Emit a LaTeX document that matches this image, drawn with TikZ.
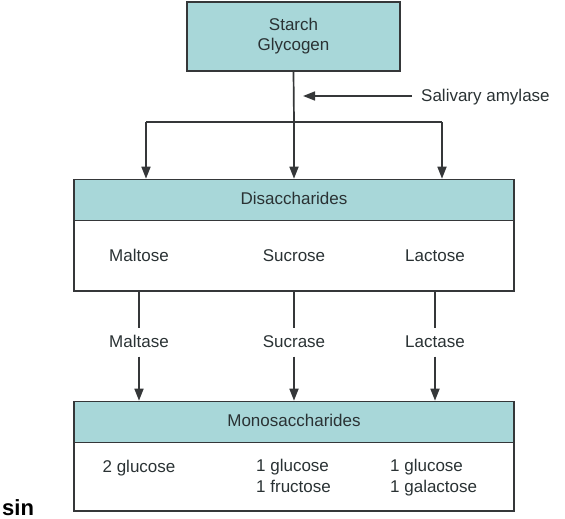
\documentclass[tikz,border=0pt]{standalone}
\usepackage{fontspec}
\setmainfont{Liberation Sans}
\usetikzlibrary{arrows.meta}
\definecolor{tealfill}{HTML}{A8D7D9}
\definecolor{linecol}{HTML}{353739}
\definecolor{txtcol}{HTML}{2A3234}
\tikzset{
  lbl/.style={font=\fontsize{17}{21}\selectfont, text=txtcol, inner sep=0pt, text height=12.5pt, text depth=3.5pt},
  twoline/.style={font=\fontsize{17}{21}\selectfont, text=txtcol, inner sep=0pt, align=left, anchor=west},
  hdr/.style={draw=linecol, line width=1.7pt, fill=tealfill, minimum width=440pt, minimum height=41pt, inner sep=0pt, font=\fontsize{17}{21}\selectfont, text=txtcol, text height=12.5pt, text depth=3.5pt},
  bodybox/.style={draw=linecol, line width=1.7pt, fill=white, minimum width=440pt, inner sep=0pt},
  conn/.style={draw=linecol, line width=1.7pt},
  arr/.style={conn, -{Triangle[length=12pt,width=9pt]}},
}
\begin{document}
\begin{tikzpicture}[x=1pt,y=-1pt]
\useasboundingbox (0,0) rectangle (565,519);
\clip (0,0) rectangle (565,519);
% top box
\node[draw=linecol, line width=1.7pt, fill=tealfill, minimum width=213pt, minimum height=69pt, inner sep=0pt, align=center, font=\fontsize{17}{20}\selectfont, text=txtcol] (top) at (293.5,36.5) {\strut Starch\\Glycogen\strut};
% Disaccharides
\node[bodybox, minimum height=71pt] (dbody) at (294,255.5) {};
\node[hdr] (dhead) at (294,200) {Disaccharides};
\node[lbl] (maltose) at (139,256.5) {Maltose};
\node[lbl] (sucrose) at (294,256.5) {Sucrose};
\node[lbl] (lactose) at (435,256.5) {Lactose};
% Monosaccharides
\node[bodybox, minimum height=69pt] (mbody) at (294,476.5) {};
\node[hdr] (mhead) at (294,422) {Monosaccharides};
\node[lbl] (glu2) at (139,467.5) {2 glucose};
\node[twoline] (glufru) at (256,478) {\strut 1 glucose\\1 fructose\strut};
\node[twoline] (glugal) at (390,478) {\strut 1 glucose\\1 galactose\strut};
% enzymes
\node[lbl, inner sep=6pt] (maltase) at (139,342.5) {Maltase};
\node[lbl, inner sep=6pt] (sucrase) at (294,342.5) {Sucrase};
\node[lbl, inner sep=6pt] (lactase) at (435,342.5) {Lactase};
% salivary amylase
\node[lbl, anchor=west] (sal) at (421,96.5) {Salivary amylase};
\coordinate (amytip) at (303,96);
\coordinate (bl) at (146,122);
\coordinate (bm) at (294,122);
\coordinate (br) at (442,122);
% connectors
\draw[conn] (top.south) -- (bm);
\draw[arr] ([xshift=-9pt,yshift=0.5pt]sal.west) -- (amytip);
\draw[conn] (bl) -- (br);
\draw[arr] (bl) -- (bl |- dhead.north);
\draw[arr] (bm) -- (bm |- dhead.north);
\draw[arr] (br) -- (br |- dhead.north);
\draw[conn] (maltase |- dbody.south) -- (maltase.north);
\draw[conn] (sucrase |- dbody.south) -- (sucrase.north);
\draw[conn] (lactase |- dbody.south) -- (lactase.north);
\draw[arr] (maltase.south) -- (maltase |- mhead.north);
\draw[arr] (sucrase.south) -- (sucrase |- mhead.north);
\draw[arr] (lactase.south) -- (lactase |- mhead.north);
% fragment of a word at the bottom left edge
\node[anchor=base west, inner sep=0pt, font=\bfseries\fontsize{22}{22}\selectfont, text=black] (frag) at (2,515.5) {sin};
\end{tikzpicture}
\end{document}
